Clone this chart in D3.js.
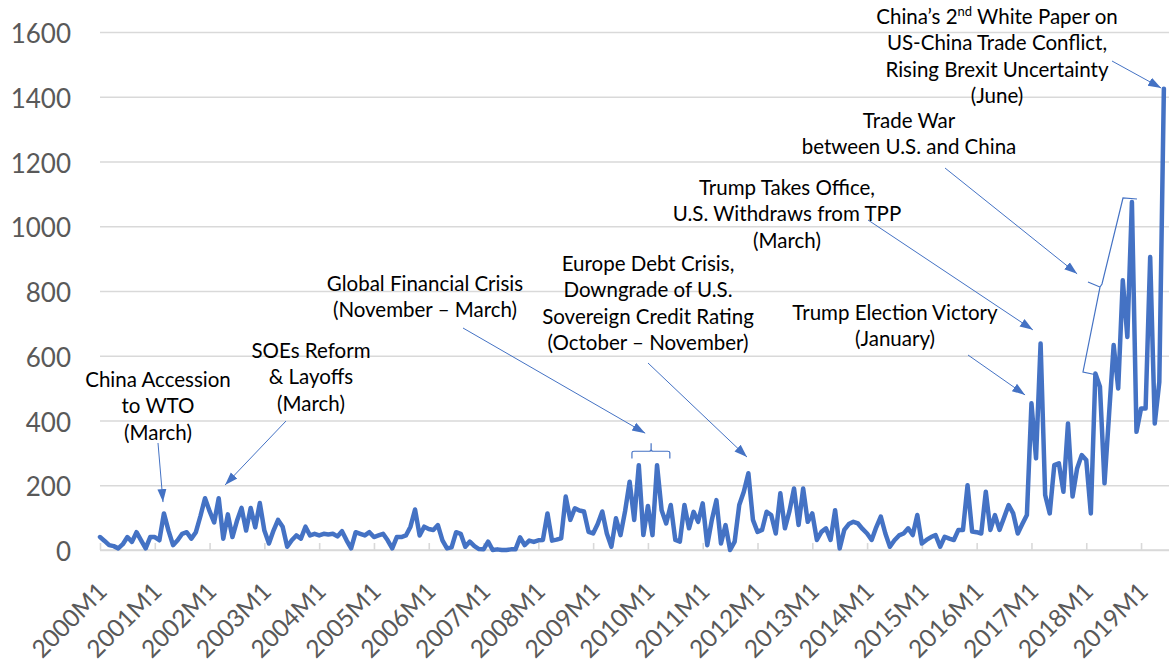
<!DOCTYPE html>
<html>
<head>
<meta charset="utf-8">
<script src="https://cdn.jsdelivr.net/npm/d3@7"></script>
<style>
  html, body { margin: 0; padding: 0; background: #fff; }
  svg { display: block; }
  text { font-family: Lato, "Noto Sans", sans-serif; }
</style>
</head>
<body>
<svg id="chart" width="1169" height="666"></svg>
<script>
// ---------------- DATA ----------------
const startYear = 2000;
const nMonths = 234; // 2000M1 .. 2019M6
const categories = d3.range(nMonths).map(i => `${startYear + Math.floor(i / 12)}M${(i % 12) + 1}`);

const values = [
  40, 28, 15, 12, 5, 18, 40, 25, 55, 30, 5, 40,            // 2000
  40, 30, 113, 60, 15, 30, 50, 55, 35, 55, 105, 160,       // 2001
  120, 85, 160, 35, 110, 40, 90, 130, 60, 130, 70, 145,    // 2002
  60, 20, 60, 93, 72, 10, 30, 45, 35, 72, 45, 50,          // 2003
  45, 50, 48, 50, 42, 58, 30, 5, 55, 50, 45, 55,           // 2004
  40, 45, 50, 30, 5, 40, 40, 45, 72, 125, 45, 72,          // 2005
  65, 62, 77, 30, 5, 8, 55, 50, 10, 26, 12, 3,             // 2006
  2, 26, 0, 2, 0, 0, 2, 2, 39, 15, 29, 25,                 // 2007
  30, 31, 113, 29, 32, 36, 165, 93, 129, 122, 119, 56,     // 2008
  51, 80, 119, 51, 10, 98, 46, 120, 211, 93, 262, 46,      // 2009
  136, 46, 262, 123, 82, 139, 31, 26, 139, 67, 118, 87,    // 2010
  144, 15, 93, 154, 20, 77, 0, 26, 139, 180, 237, 93,      // 2011
  56, 62, 118, 108, 51, 175, 67, 120, 190, 77, 190, 87,    // 2012
  113, 31, 56, 67, 31, 123, 5, 62, 80, 87, 82, 65,         // 2013
  51, 31, 70, 103, 51, 10, 30, 45, 51, 67, 46, 108,        // 2014
  20, 31, 40, 46, 10, 41, 35, 31, 62, 62, 200, 57,         // 2015
  55, 51, 180, 62, 108, 62, 100, 139, 113, 51, 80, 108,    // 2016
  453, 283, 638, 170, 113, 262, 268, 180, 391, 165, 252, 293, // 2017
  278, 113, 545, 504, 206, 420, 633, 499, 833, 658, 1075, 365, // 2018
  437, 437, 905, 391, 519, 1425                            // 2019
];

const yTicks = [0, 200, 400, 600, 800, 1000, 1200, 1400, 1600];
const xTickLabels = ["2000M1","2001M1","2002M1","2003M1","2004M1","2005M1","2006M1",
  "2007M1","2008M1","2009M1","2010M1","2011M1","2012M1","2013M1","2014M1","2015M1",
  "2016M1","2017M1","2018M1","2019M1"];

// annotations: text lines, arrow tip given in data space (month index, value)
const annotationTexts = [
  ["China Accession", "to WTO", "(March)"],
  ["SOEs Reform", "& Layoffs", "(March)"],
  ["Global Financial Crisis", "(November \u2013 March)"],
  ["Europe Debt Crisis,", "Downgrade of U.S.", "Sovereign Credit Rating", "(October \u2013 November)"],
  ["Trump Election Victory", "(January)"],
  ["Trump Takes Office,", "U.S. Withdraws from TPP", "(March)"],
  ["Trade War", "between U.S. and China"],
  ["China\u2019s 2|nd| White Paper on", "US-China Trade Conflict,", "Rising Brexit Uncertainty", "(June)"]
];
const annotationTips = [[13.8,148],[27.4,201],[119.4,361],[141.7,287],[202.6,479],[204.3,680],[214.0,853],[232.4,1427]];

// ---------------- LAYOUT ----------------
const plotLeft = 100, plotRight = 1169, plotTop = 32, plotBottom = 550;
const step = 4.566;
const blue = "#4472C4";

const annotationLayout = [
  {cx: 158, y0: 387, start: [158, 443]},
  {cx: 311, y0: 358, start: [286, 421]},
  {cx: 425, y0: 291, start: [463, 328]},
  {cx: 648, y0: 271, start: [648, 363]},
  {cx: 895, y0: 320, start: [968, 355]},
  {cx: 787, y0: 195, start: [868, 220]},
  {cx: 909, y0: 128, start: [945, 168]},
  {cx: 997, y0: 24,  start: [1112, 61]}
];
const lineGap = 26.4;

const svg = d3.select("#chart");

const x = d3.scalePoint().domain(categories).range([plotLeft, plotLeft + step * (nMonths - 1)]);
const y = d3.scaleLinear().domain([0, 1600]).range([plotBottom, plotTop]);
const xi = i => plotLeft + step * i;

// gridlines
const grid = svg.append("g")
  .attr("transform", `translate(${plotLeft},0)`)
  .call(d3.axisLeft(y).tickValues(yTicks).tickSize(-(plotRight - plotLeft)).tickFormat(""));
grid.select(".domain").remove();
grid.selectAll("line").attr("stroke", "#d9d9d9").attr("stroke-width", 1.6);

// y labels
svg.append("g").selectAll("text").data(yTicks).join("text")
  .attr("x", 71).attr("y", d => y(d) + 1)
  .attr("text-anchor", "end").attr("dominant-baseline", "central")
  .attr("font-size", 26).attr("fill", "#595959")
  .text(d => d);

// x axis
const xAxis = svg.append("g")
  .attr("transform", `translate(0,${plotBottom})`)
  .call(d3.axisBottom(x).tickValues(xTickLabels).tickSizeInner(-7).tickSizeOuter(0));
xAxis.select(".domain").attr("stroke", "#d9d9d9").attr("stroke-width", 1.6)
  .attr("d", `M${plotLeft},0H${plotRight}`);
xAxis.selectAll(".tick line").attr("stroke", "#d9d9d9").attr("stroke-width", 1.6);
xAxis.selectAll(".tick text")
  .attr("font-size", 24.5).attr("fill", "#595959")
  .attr("text-anchor", "end").attr("dy", null).attr("y", null)
  .attr("transform", "translate(8,43) rotate(-45)");

// data line
const line = d3.line().x((d, i) => x(categories[i])).y(d => y(d));
svg.append("path").datum(values)
  .attr("d", line)
  .attr("fill", "none").attr("stroke", blue)
  .attr("stroke-width", 4.5).attr("stroke-linejoin", "round").attr("stroke-linecap", "round");

// arrow marker
svg.append("defs").append("marker")
  .attr("id", "arr").attr("markerUnits", "userSpaceOnUse")
  .attr("markerWidth", 14).attr("markerHeight", 12)
  .attr("viewBox", "0 -6 14 12").attr("refX", 13).attr("refY", 0)
  .attr("orient", "auto")
  .append("path").attr("d", "M0,-4.5L13,0L0,4.5Z").attr("fill", blue);

// annotations
const ann = svg.append("g");
annotationTexts.forEach((lines, k) => {
  const L = annotationLayout[k];
  lines.forEach((s, j) => {
    const t = ann.append("text")
      .attr("x", L.cx).attr("y", L.y0 + j * lineGap)
      .attr("text-anchor", "middle").attr("font-size", 20.5).attr("fill", "#000");
    const parts = s.split("|");
    parts.forEach((p, m) => {
      const ts = t.append("tspan").text(p);
      if (m === 1) ts.attr("font-size", 13).attr("dy", -8);
      if (m === 2) ts.attr("dy", 8);
    });
  });
  const tip = annotationTips[k];
  ann.append("line")
    .attr("x1", L.start[0]).attr("y1", L.start[1])
    .attr("x2", xi(tip[0])).attr("y2", y(tip[1]))
    .attr("stroke", blue).attr("stroke-width", 1)
    .attr("marker-end", "url(#arr)");
});

// braces
const gx0 = xi(116.5), gx1 = xi(124.8), gm = xi(120.7);
const gyEnd = y(283), gyBar = y(305), gyNub = y(330);
ann.append("path")
  .attr("d", `M${gx0},${gyEnd} L${gx0},${gyBar+1.5} Q${gx0},${gyBar} ${gx0+2},${gyBar} L${gm-2},${gyBar} Q${gm},${gyBar} ${gm},${gyBar-2} L${gm},${gyNub} M${gm},${gyBar-2} Q${gm},${gyBar} ${gm+2},${gyBar} L${gx1-2},${gyBar} Q${gx1},${gyBar} ${gx1},${gyBar+1.5} L${gx1},${gyEnd}`)
  .attr("fill", "none").attr("stroke", blue).attr("stroke-width", 1.2);

ann.append("path")
  .attr("d", "M1097,375 L1083,372 L1100,287 L1088,282 M1100,287 L1102,284 L1123,198 L1137,199")
  .attr("fill", "none").attr("stroke", blue).attr("stroke-width", 1.2);
</script>
</body>
</html>
